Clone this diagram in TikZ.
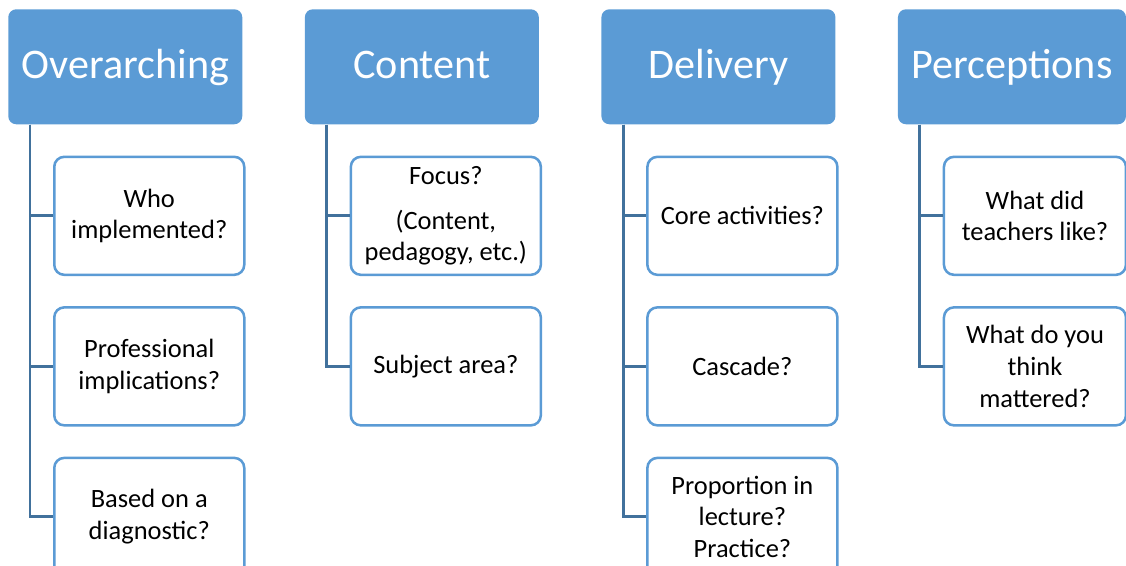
\documentclass[tikz,border=0pt]{standalone}
\usepackage{fontspec}
\setmainfont{Carlito}
\usepackage{tikz}
\usetikzlibrary{positioning}

\definecolor{hdrblue}{HTML}{5B9BD5}
\definecolor{linkblue}{HTML}{41719C}

\begin{document}
\begin{tikzpicture}[
    node distance=0.75cm,
    hdr/.style={rectangle, rounded corners=0.2cm, fill=hdrblue, text=white, minimum width=5.85cm, minimum height=2.875cm, font=\fontsize{30}{36}\selectfont, text height=23.4pt, text depth=7.2pt, inner sep=0pt},
    qbox/.style={rectangle, rounded corners=0.25cm, draw=hdrblue, line width=1.8pt, fill=white, minimum width=4.75cm, minimum height=2.95cm, align=center, font=\fontsize{18.8}{22.5}\selectfont, inner sep=0pt},
    link/.style={draw=linkblue, line width=2pt}
]
    \clip (0,0) rectangle (28.15,-14.15);

    % top row
    \node[hdr, anchor=north west] (ov) at (0.2,-0.225) {Overarching};
    \node[hdr, right=1.55cm of ov] (ct) {Content};
    \node[hdr, right=1.55cm of ct] (dl) {Delivery};
    \node[hdr, right=1.55cm of dl, minimum width=5.7cm] (pc) {Perceptions};

    % questions under each heading
    \node[qbox, anchor=north west] (ov1) at ([xshift=1.125cm, yshift=-0.775cm]ov.south west) {Who\\implemented?};
    \node[qbox, below=of ov1] (ov2) {Professional\\implications?};
    \node[qbox, below=of ov2] (ov3) {Based on a\\diagnostic?};

    \node[qbox, anchor=north west] (ct1) at ([xshift=1.125cm, yshift=-0.775cm]ct.south west) {Focus?\\[0.5em](Content,\\pedagogy, etc.)};
    \node[qbox, below=of ct1] (ct2) {Subject area?};

    \node[qbox, anchor=north west] (dl1) at ([xshift=1.125cm, yshift=-0.775cm]dl.south west) {Core activities?};
    \node[qbox, below=of dl1] (dl2) {Cascade?};
    \node[qbox, below=of dl2] (dl3) {Proportion in\\lecture?\\Practice?};

    \node[qbox, anchor=north west, minimum width=4.55cm] (pc1) at ([xshift=1.125cm, yshift=-0.775cm]pc.south west) {What did\\teachers like?};
    \node[qbox, below=of pc1, minimum width=4.55cm] (pc2) {What do you\\think\\mattered?};

    % trunks
    \foreach \c in {ov1,ov2,ov3}
        \draw[link] ([xshift=0.55cm]ov.south west) |- (\c.west);
    \foreach \c in {ct1,ct2}
        \draw[link] ([xshift=0.55cm]ct.south west) |- (\c.west);
    \foreach \c in {dl1,dl2,dl3}
        \draw[link] ([xshift=0.55cm]dl.south west) |- (\c.west);
    \foreach \c in {pc1,pc2}
        \draw[link] ([xshift=0.55cm]pc.south west) |- (\c.west);
\end{tikzpicture}
\end{document}
